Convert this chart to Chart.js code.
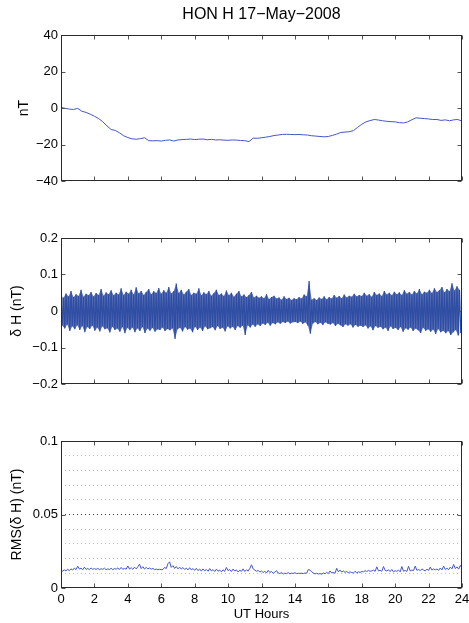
<!DOCTYPE html>
<html>
<head>
<meta charset="utf-8">
<script src="https://cdn.jsdelivr.net/npm/chart.js@4.4.1/dist/chart.umd.min.js"></script>
<style>
  body { margin: 0; background: #fff; }
  #wrap { position: relative; width: 469px; height: 623px; }
  canvas { position: absolute; left: 0; }
</style>
</head>
<body>
<div id="wrap">
  <canvas id="chartH" width="469" height="200" style="top:0"></canvas>
  <canvas id="chartDH" width="469" height="200" style="top:200px"></canvas>
  <canvas id="chartRMS" width="469" height="223" style="top:400px"></canvas>
</div>
<script>
// tick positions
const hourTicks = [0, 2, 4, 6, 8, 10, 12, 14, 16, 18, 20, 22, 24];
const hTicks = [-40, -20, 0, 20, 40];
const dhTicks = [-0.2, -0.1, 0, 0.1, 0.2];
const rmsTicks = [0, 0.05, 0.1];
const rmsGrid = [0, 0.01, 0.02, 0.03, 0.04, 0.05, 0.06, 0.07, 0.08, 0.09, 0.1];

// H component (nT), one value every 15 min
const hStep = 0.25;
const hValues = [
  0.3, -0.2, -0.6, -0.8, -0.2, -1.8, -2.4, -3.4,
  -4.5, -5.8, -7.5, -9.8, -11.8, -12.3, -13.6, -15.2,
  -16.2, -16.9, -17.1, -16.8, -16.3, -17.9, -18.0, -17.9,
  -18.1, -17.7, -17.5, -18.1, -17.5, -17.3, -17.2, -17.0,
  -17.3, -17.1, -17.0, -17.4, -17.2, -17.5, -17.4, -17.6,
  -17.7, -17.5, -17.6, -17.8, -17.9, -18.4, -16.5, -16.6,
  -16.3, -16.0, -15.6, -15.1, -14.8, -14.5, -14.4, -14.5,
  -14.6, -14.5, -14.7, -14.8, -15.2, -15.4, -15.6, -15.8,
  -15.6, -15.0, -14.3, -13.4, -13.2, -13.0, -12.4, -10.6,
  -8.9, -7.6, -6.9, -6.3, -6.6, -7.0, -7.3, -7.5,
  -7.6, -8.0, -8.2, -7.6, -6.4, -5.4, -5.6, -5.8,
  -6.0, -6.3, -6.3, -6.8, -6.5, -7.0, -6.5, -6.3,
  -7.2
];

// delta H swing per 9-min bin, in units of 0.001 nT
const dhStep = 0.15;
const dhHigh = [
  42, 36, 48, 40, 55, 38, 46,
  41, 58, 39, 47, 43, 52, 40,
  49, 44, 60, 42, 51, 46,
  57, 43, 50, 45, 62, 44, 53,
  47, 58, 45, 65, 48, 55, 44,
  52, 60, 46, 54, 49, 63,
  47, 57, 50, 66, 48, 55, 75,
  49, 58, 45, 53, 60, 44, 50,
  47, 62, 43, 51, 46, 55,
  42, 49, 58, 44, 48, 41, 56,
  43, 50, 39, 47, 55, 40, 45,
  38, 44, 52, 37, 42, 36,
  40, 35, 46, 33, 38, 42, 34,
  37, 31, 40, 33, 36, 30, 35,
  32, 38, 34, 45, 40, 82,
  31, 35, 30, 37, 33, 40, 32,
  38, 34, 44, 36, 41, 35, 45,
  37, 42, 39, 47, 40, 44,
  41, 50, 42, 46, 39, 52, 44,
  48, 41, 55, 45, 50, 43, 53,
  46, 51, 44, 57, 47, 52,
  45, 55, 48, 60, 46, 53, 50,
  58, 49, 62, 52, 57, 66, 51,
  60, 54, 76, 56, 68, 58
];
const dhLow = [
  -40, -48, -37, -55, -42, -50, -39,
  -52, -41, -58, -44, -49, -40, -54,
  -45, -56, -42, -50, -47, -59,
  -43, -52, -48, -57, -44, -61, -46,
  -53, -45, -58, -47, -55, -44, -60,
  -48, -54, -46, -57, -50, -52,
  -45, -55, -49, -53, -47, -77, -50,
  -46, -56, -44, -51, -48, -58, -43,
  -52, -45, -55, -42, -50, -47,
  -44, -53, -41, -49, -45, -56, -42,
  -48, -43, -52, -41, -46, -40, -66,
  -39, -45, -37, -43, -36, -41,
  -34, -38, -32, -40, -33, -36, -31,
  -35, -30, -33, -29, -34, -31, -30,
  -33, -29, -35, -31, -40, -62,
  -34, -30, -36, -32, -38, -31, -35,
  -37, -33, -41, -35, -39, -44, -36,
  -40, -36, -45, -38, -43, -40,
  -44, -39, -48, -42, -53, -41, -46,
  -43, -50, -45, -55, -42, -49, -46,
  -52, -44, -57, -47, -51, -45,
  -55, -48, -53, -60, -46, -54, -50,
  -57, -51, -63, -49, -58, -54, -61,
  -55, -66, -58, -52, -67, -60
];

// RMS of delta H every 6 min, in units of 0.001 nT
const rmsStep = 0.1;
const rmsValues = [
  12.0, 11.5, 12.3, 11.6, 12.8, 11.8, 13.0, 12.2, 13.6, 12.5, 14.8,
  12.9, 13.5, 12.4, 14.2, 12.6, 13.3, 12.5, 13.6, 12.7, 13.2,
  12.6, 13.4, 12.5, 13.1, 12.7, 13.5, 12.4, 13.0, 12.6, 13.4,
  12.5, 13.2, 12.8, 13.6, 12.6, 14.0, 12.7, 13.3, 12.8, 15.0,
  12.9, 13.8, 12.7, 14.2, 13.0, 14.4, 16.2, 13.2, 14.5, 12.9,
  14.0, 13.0, 13.6, 12.8, 13.3, 12.5, 12.9, 12.4, 12.7, 12.5,
  12.6, 14.0, 13.2, 16.5, 17.8, 14.0, 15.2, 13.3, 14.6, 13.0,
  14.2, 12.9, 13.9, 12.6, 13.5, 12.3, 13.8, 12.4, 13.2, 12.0,
  13.4, 11.8, 12.9, 11.5, 13.0, 11.7, 12.6, 11.4, 13.2, 11.6,
  12.5, 11.2, 12.8, 11.4, 12.2, 11.0, 12.4, 11.3, 14.0, 11.8,
  12.6, 11.2, 12.9, 11.6, 12.3, 10.9, 12.1, 11.3, 13.0, 11.2,
  12.4, 11.5, 13.2, 15.8, 13.0, 12.2, 11.4, 12.0, 10.8, 11.6,
  10.5, 11.4, 10.2, 12.0, 10.6, 11.2, 10.0, 10.8, 11.8, 10.2,
  9.8, 10.6, 9.5, 10.2, 9.7, 10.5, 9.6, 10.1, 9.9, 10.4,
  9.8, 10.0, 9.9, 10.1, 9.8, 10.2, 10.0, 12.6, 12.2, 11.0,
  10.2, 9.6, 10.0, 9.5, 9.8, 9.4, 10.2, 9.7, 10.6, 9.8,
  11.6, 10.2, 10.6, 10.0, 13.4, 11.0, 12.2, 10.8, 11.6, 10.6,
  11.2, 10.4, 11.0, 10.5, 10.2, 11.4, 10.3, 11.0, 10.6, 11.2,
  11.0, 11.8, 11.2, 12.0, 11.4, 11.6, 12.2, 11.3, 14.4, 11.6,
  12.0, 11.4, 14.6, 12.0, 11.6, 12.4, 11.2, 12.6, 11.0, 11.8,
  11.3, 12.2, 11.0, 14.6, 11.4, 12.0, 11.2, 14.8, 11.6, 12.2,
  11.8, 14.9, 12.0, 12.6, 11.8, 13.0, 12.2, 11.6, 12.8, 12.0,
  14.2, 12.2, 13.0, 12.4, 12.9, 12.0, 13.6, 12.3, 14.8, 12.6,
  13.4, 12.5, 14.2, 13.0, 16.0, 13.2, 14.4, 12.8, 15.4, 13.6
];

Chart.defaults.font.family = "'Liberation Sans', Arial, Helvetica, sans-serif";
Chart.defaults.color = '#000';

const lineBlue = '#4455c8';
const fillBlue = '#2f4ea2';
const minus = (v) => String(+v.toFixed(3)).replace('-', '\u2212');

// box round the plot area with inward tick marks, like matlab axes
const frame = {
  id: 'frame',
  afterDatasetsDraw(chart, args, opts) {
    const { ctx, chartArea: a, scales } = chart;
    const l = Math.round(a.left) + 0.5, r = Math.round(a.right) - 0.5;
    const t = Math.round(a.top) + 0.5, b = Math.round(a.bottom) - 0.5;
    ctx.save();
    ctx.lineWidth = 1;
    ctx.strokeStyle = '#555';
    ctx.beginPath();
    hourTicks.forEach((v) => {
      const x = Math.round(scales.x.getPixelForValue(v)) + 0.5;
      ctx.moveTo(x, b); ctx.lineTo(x, b - 4);
      ctx.moveTo(x, t); ctx.lineTo(x, t + 4);
    });
    opts.yTicks.forEach((v) => {
      const y = Math.round(scales.y.getPixelForValue(v)) + 0.5;
      ctx.moveTo(l, y); ctx.lineTo(l + 4, y);
      ctx.moveTo(r, y); ctx.lineTo(r - 4, y);
    });
    ctx.stroke();
    ctx.strokeStyle = '#2a2a2a';
    ctx.strokeRect(l, t, r - l, b - t);
    ctx.restore();
  }
};

function hourAxis(showLabels, height) {
  return {
    type: 'linear', min: 0, max: 24,
    afterBuildTicks: (s) => { s.ticks = hourTicks.map((v) => ({ value: v })); },
    grid: { display: false, drawTicks: false },
    border: { display: false },
    ticks: { display: showLabels, padding: 4, maxRotation: 0, autoSkip: false, font: { size: 13 } },
    title: { display: showLabels, text: 'UT Hours', font: { size: 13 }, padding: { top: 0, bottom: 1 } },
    afterFit: (s) => { s.height = height; s.paddingLeft = 0; s.paddingRight = 0; }
  };
}

function valueAxis(min, max, ticks, label, labelPad) {
  return {
    type: 'linear', min: min, max: max,
    afterBuildTicks: (s) => { s.ticks = ticks.map((v) => ({ value: v })); },
    grid: { display: false, drawTicks: false },
    border: { display: false },
    ticks: { padding: 3, autoSkip: false, font: { size: 13 }, callback: (v) => minus(v) },
    title: { display: true, text: label, font: { size: 14 }, padding: { top: labelPad, bottom: 0 } },
    afterFit: (s) => { s.width = 61; s.paddingTop = 0; s.paddingBottom = 0; }
  };
}

// top panel: H
new Chart(document.getElementById('chartH'), {
  type: 'line',
  data: {
    datasets: [{
      data: hValues.map((v, i) => ({ x: i * hStep, y: v })),
      borderColor: lineBlue, borderWidth: 1, pointRadius: 0, tension: 0
    }]
  },
  options: {
    responsive: false, animation: false, devicePixelRatio: 1,
    layout: { padding: { top: 0, right: 7, bottom: 0, left: 0 } },
    plugins: {
      legend: { display: false }, tooltip: { enabled: false },
      title: {
        display: true, fullSize: false, text: 'HON H 17\u2212May\u22122008',
        font: { size: 16, weight: 'normal' }, color: '#000',
        padding: { top: 5.4, bottom: 10.4 }
      },
      frame: { yTicks: hTicks }
    },
    scales: { x: hourAxis(false, 19), y: valueAxis(-40, 40, hTicks, 'nT', 15.6) }
  },
  plugins: [frame]
});

// middle panel: delta H - band between bin lows and highs, zigzag trace over it
const dhLowPts = dhLow.map((v, i) => ({ x: i * dhStep + dhStep / 2, y: v / 1000 }));
const dhHighPts = dhHigh.map((v, i) => ({ x: i * dhStep, y: v / 1000 }));
const dhTrace = dhHigh.flatMap((v, i) => [dhHighPts[i], dhLowPts[i]]);

new Chart(document.getElementById('chartDH'), {
  type: 'line',
  data: {
    datasets: [
      { data: dhLowPts, borderWidth: 0, pointRadius: 0, tension: 0, fill: false },
      { data: dhHighPts, borderWidth: 0, pointRadius: 0, tension: 0,
        fill: '-1', backgroundColor: 'rgba(47, 78, 162, 0.8)' },
      { data: dhTrace, borderColor: fillBlue, borderWidth: 1.2, pointRadius: 0, tension: 0, fill: false }
    ]
  },
  options: {
    responsive: false, animation: false, devicePixelRatio: 1,
    layout: { padding: { top: 38, right: 7, bottom: 0, left: 0 } },
    plugins: { legend: { display: false }, tooltip: { enabled: false }, frame: { yTicks: dhTicks } },
    scales: { x: hourAxis(false, 16), y: valueAxis(-0.2, 0.2, dhTicks, '\u03b4 H (nT)', 8.3) }
  },
  plugins: [frame]
});

// bottom panel: RMS with dotted grid
const rmsAxis = valueAxis(0, 0.1, rmsGrid, 'RMS(\u03b4 H) (nT)', 9.1);
rmsAxis.ticks.callback = (v) => (rmsTicks.includes(v) ? minus(v) : '');
rmsAxis.grid = {
  display: true, drawTicks: false, lineWidth: 1,
  color: (c) => {
    const v = c.tick.value;
    if (v === 0) return 'rgba(0,0,0,0)';
    return rmsTicks.includes(v) ? '#333' : '#bdbdbd';
  }
};
rmsAxis.border = { display: false, dash: [1, 3] };

new Chart(document.getElementById('chartRMS'), {
  type: 'line',
  data: {
    datasets: [{
      data: rmsValues.map((v, i) => ({ x: i * rmsStep, y: v / 1000 })),
      borderColor: lineBlue, borderWidth: 1, pointRadius: 0, tension: 0
    }]
  },
  options: {
    responsive: false, animation: false, devicePixelRatio: 1,
    layout: { padding: { top: 41, right: 7, bottom: 0, left: 0 } },
    plugins: { legend: { display: false }, tooltip: { enabled: false }, frame: { yTicks: rmsTicks } },
    scales: { x: hourAxis(true, 35), y: rmsAxis }
  },
  plugins: [frame]
});
</script>
</body>
</html>
